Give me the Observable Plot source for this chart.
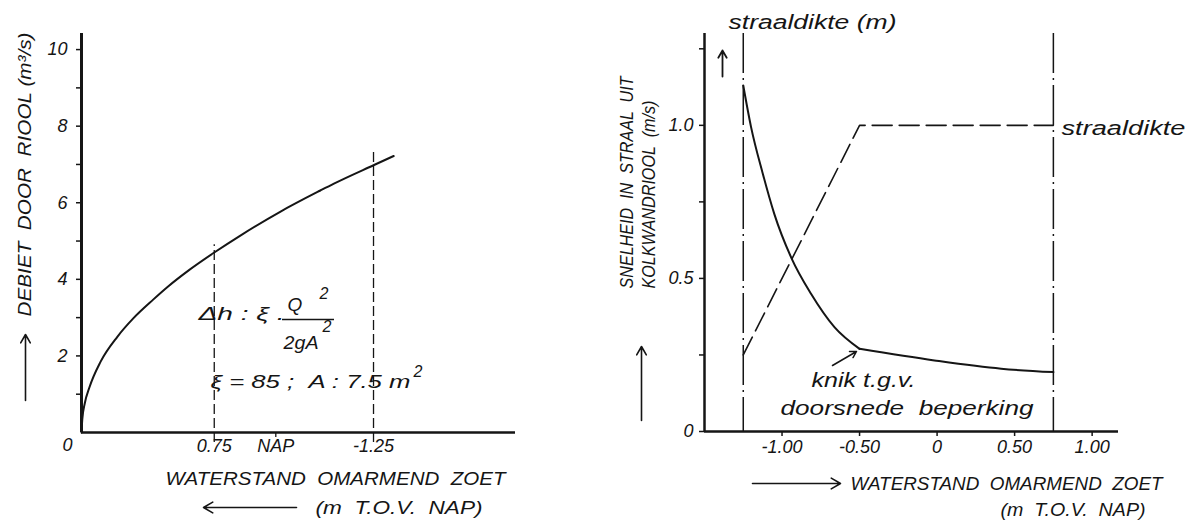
<!DOCTYPE html>
<html><head><meta charset="utf-8">
<script src="https://cdn.jsdelivr.net/npm/d3@7"></script>
<script src="https://cdn.jsdelivr.net/npm/@observablehq/plot@0.6"></script>
<style>
html,body{margin:0;padding:0;background:#fff;}
#wrap{position:relative;width:1191px;height:521px;overflow:hidden;background:#fff;}
#wrap svg{position:absolute;top:0;}
</style></head><body><div id="wrap"></div>
<script>
// ---------- Left chart: debiet door riool vs. verval (waterstand omarmend zoet) ----------
const verval = [0, 0.01, 0.04, 0.1, 0.24, 0.45, 0.65, 0.9, 1.08, 1.35, 1.667, 2.0, 2.5, 3.0, 3.17, 3.667, 3.92];
const debiet = [0, 0.35, 0.75, 1.18, 1.85, 2.5, 2.98, 3.47, 3.8, 4.24, 4.7, 5.15, 5.77, 6.32, 6.5, 6.98, 7.22];
const leftYTicks = [2, 4, 6, 8, 10];
const leftYMinor = [1, 3, 5, 7, 9];
const leftXTicks = [1.667, 2.44, 3.667];
const leftXLabels = ["0.75", "NAP", "-1.25"];
const refLinesX = [1.667, 3.667];
const refLinesTop = [4.9, 7.35];

// ---------- Right chart: snelheid en straaldikte vs. waterstand ----------
const snelX = [-1.25, -1.2, -1.124, -1.05, -0.937, -0.813, -0.662, -0.5, -0.017, 0.413, 0.75];
const snelY = [1.13, 0.995, 0.842, 0.711, 0.564, 0.45, 0.341, 0.27, 0.232, 0.205, 0.194];
const knikX = -0.5;
const straalX = [-1.25, -0.5, 0.75];
const straalY = [0.25, 1.0, 1.0];
const grensX = [-1.25, 0.75];
const rightXTicks = [-1, -0.5, 0, 0.5, 1];
const rightXLabels = ["-1.00", "-0.50", "0", "0.50", "1.00"];
const rightYTicks = [0, 0.5, 1.0];
const rightYLabels = ["0", "0.5", "1.0"];
const rightYMinor = [0.25, 0.75, 1.25];

const INK = "#151515";
const FONT = "'Liberation Sans', 'DejaVu Sans', sans-serif";
const baseStyle = {fontFamily: FONT, fontStyle: "italic", fontSize: "18px", color: INK, background: "transparent"};

function textAt(fl, ft) {
  return (str, px, py, o = {}) => Plot.text([str], {
    text: d => d, frameAnchor: "top-left", dx: px - fl, dy: py - ft,
    textAnchor: "start", lineAnchor: "middle", fontSize: 18, fill: INK, ...o
  });
}
function fit(svg, map) {
  d3.select(svg).selectAll("text").each(function () {
    const t = this.textContent;
    if (map[t]) { this.setAttribute("textLength", map[t]); this.setAttribute("lengthAdjust", "spacingAndGlyphs"); }
  });
}

// ----- Left plot -----
const lx = d3.scaleLinear([0, 5.45], [81, 515]);
const ly = d3.scaleLinear([0, 10.42], [432, 33]);
const tL = textAt(81, 33);
const curve = verval.map((x, i) => ({x, y: debiet[i]}));
const refs = refLinesX.map((x, i) => ({x, top: refLinesTop[i]}));
const lxMap = new Map(leftXTicks.map((d, i) => [d, leftXLabels[i]]));

const left = Plot.plot({
  width: 595, height: 521,
  marginLeft: 81, marginRight: 80, marginTop: 33, marginBottom: 89,
  x: {domain: [0, 5.45], label: null}, y: {domain: [0, 10.42], label: null},
  style: baseStyle,
  marks: [
    Plot.ruleX(refs, {x: "x", y1: ly.invert(442), y2: "top", stroke: INK, strokeWidth: 1.3, strokeDasharray: "10,4"}),
    Plot.ruleX([2.44], {y1: 0, y2: ly.invert(437), stroke: INK, strokeWidth: 1.3}),
    Plot.axisY({ticks: leftYTicks, label: null, tickSize: 5, tickPadding: 9, tickFormat: d => String(d), fontSize: 18, stroke: INK, strokeWidth: 1.5}),
    Plot.axisY({ticks: leftYMinor, label: null, tickSize: 5, tickFormat: () => "", stroke: INK, strokeWidth: 1.5}),
    Plot.axisX({ticks: leftXTicks, label: null, tickSize: 0, tickPadding: 7, tickFormat: d => lxMap.get(d), fontSize: 18}),
    Plot.ruleX([0], {stroke: INK, strokeWidth: 3}),
    Plot.ruleY([0], {stroke: INK, strokeWidth: 2.5}),
    Plot.line(curve, {x: "x", y: "y", stroke: INK, strokeWidth: 2, curve: "monotone-x"}),
    Plot.ruleY([ly.invert(319)], {x1: lx.invert(282), x2: lx.invert(334), stroke: INK, strokeWidth: 1.3}),
    tL("0", 67, 445, {textAnchor: "middle", fontSize: 18}),
    tL("DEBIET  DOOR  RIOOL (m³/s)", 25, 316, {rotate: -90, fontSize: 18}),
    tL("Δh : ξ .", 198, 313, {fontSize: 19}),
    tL("Q", 287, 304, {fontSize: 19}),
    tL("2", 319, 293, {fontSize: 16}),
    tL("2gA", 283, 342, {fontSize: 19}),
    tL("2", 322, 326, {fontSize: 16}),
    tL("ξ = 85 ;  A : 7.5 m", 210, 381, {fontSize: 19}),
    tL("2", 413, 371, {fontSize: 16}),
    tL("WATERSTAND  OMARMEND  ZOET", 165, 478, {fontSize: 19}),
    tL("(m  T.O.V.  NAP)", 315, 507, {fontSize: 19}),
    Plot.arrow([{}], {x1: lx.invert(25), y1: ly.invert(400), x2: lx.invert(25), y2: ly.invert(334), stroke: INK, strokeWidth: 1.6, headLength: 9}),
    Plot.arrow([{}], {x1: lx.invert(296), y1: ly.invert(507), x2: lx.invert(203), y2: ly.invert(507), stroke: INK, strokeWidth: 1.6, headLength: 10})
  ]
});
fit(left, {
  "DEBIET  DOOR  RIOOL (m³/s)": 284,
  "Δh : ξ .": 86,
  "2gA": 35,
  "ξ = 85 ;  A : 7.5 m": 200,
  "WATERSTAND  OMARMEND  ZOET": 340,
  "(m  T.O.V.  NAP)": 167
});
left.style.left = "0px";

// ----- Right plot -----
const rx = d3.scaleLinear([-1.5, 1.17], [704, 1118]);
const ry = d3.scaleLinear([0, 1.3], [431, 33]);
const tR = textAt(704, 33);
const snel = snelX.map((x, i) => ({x, y: snelY[i]}));
const steep = snel.filter(d => d.x <= knikX);
const flat = snel.filter(d => d.x >= knikX);
const straal = straalX.map((x, i) => ({x, y: straalY[i]}));
const rxMap = new Map(rightXTicks.map((d, i) => [d, rightXLabels[i]]));
const ryMap = new Map(rightYTicks.map((d, i) => [d, rightYLabels[i]]));

const right = Plot.plot({
  width: 596, height: 521,
  marginLeft: 109, marginRight: 73, marginTop: 33, marginBottom: 90,
  x: {domain: [-1.5, 1.17], label: null}, y: {domain: [0, 1.3], label: null},
  style: baseStyle,
  marks: [
    Plot.ruleX(grensX, {stroke: INK, strokeWidth: 1.5, strokeDasharray: "40,5,2,5"}),
    Plot.axisY({ticks: rightYTicks, label: null, tickSize: 5, tickPadding: 6, tickFormat: d => ryMap.get(d), fontSize: 18, stroke: INK, strokeWidth: 1.5}),
    Plot.axisY({ticks: rightYMinor, label: null, tickSize: 5, tickFormat: () => "", stroke: INK, strokeWidth: 1.5}),
    Plot.axisX({ticks: rightXTicks, label: null, tickSize: 5, tickPadding: 4, tickFormat: d => rxMap.get(d), fontSize: 18, stroke: INK, strokeWidth: 1.5}),
    Plot.ruleX([-1.5], {stroke: INK, strokeWidth: 2.5}),
    Plot.ruleY([0], {stroke: INK, strokeWidth: 2.5}),
    Plot.line(straal, {x: "x", y: "y", stroke: INK, strokeWidth: 1.6, strokeDasharray: "20,7"}),
    Plot.line(steep, {x: "x", y: "y", stroke: INK, strokeWidth: 2, curve: "monotone-x"}),
    Plot.line(flat, {x: "x", y: "y", stroke: INK, strokeWidth: 2, curve: "monotone-x"}),
    tR("straaldikte (m)", 728, 22, {fontSize: 20}),
    tR("straaldikte", 1061, 128, {fontSize: 20}),
    tR("knik t.g.v.", 811, 380, {fontSize: 20}),
    tR("doorsnede  beperking", 780, 408, {fontSize: 20}),
    tR("SNELHEID  IN  STRAAL  UIT", 627, 288, {rotate: -90, fontSize: 18}),
    tR("KOLKWANDRIOOL  (m/s)", 649, 288, {rotate: -90, fontSize: 18}),
    tR("WATERSTAND  OMARMEND  ZOET", 850, 483, {fontSize: 19}),
    tR("(m  T.O.V.  NAP)", 1000, 510, {fontSize: 18}),
    Plot.arrow([{}], {x1: rx.invert(641), y1: ry.invert(420), x2: rx.invert(641), y2: ry.invert(346), stroke: INK, strokeWidth: 1.6, headLength: 9}),
    Plot.arrow([{}], {x1: rx.invert(722), y1: ry.invert(76), x2: rx.invert(722), y2: ry.invert(50), stroke: INK, strokeWidth: 1.8, headLength: 7}),
    Plot.arrow([{}], {x1: rx.invert(832), y1: ry.invert(365), x2: rx.invert(856), y2: ry.invert(351), stroke: INK, strokeWidth: 1.5, headLength: 7}),
    Plot.arrow([{}], {x1: rx.invert(752), y1: ry.invert(483), x2: rx.invert(840), y2: ry.invert(483), stroke: INK, strokeWidth: 1.6, headLength: 10})
  ]
});
fit(right, {
  "straaldikte (m)": 168,
  "straaldikte": 124,
  "knik t.g.v.": 104,
  "doorsnede  beperking": 253,
  "SNELHEID  IN  STRAAL  UIT": 212,
  "KOLKWANDRIOOL  (m/s)": 188,
  "WATERSTAND  OMARMEND  ZOET": 312,
  "(m  T.O.V.  NAP)": 145
});
right.style.left = "595px";

const wrap = document.getElementById("wrap");
wrap.appendChild(left);
wrap.appendChild(right);
</script></body></html>
